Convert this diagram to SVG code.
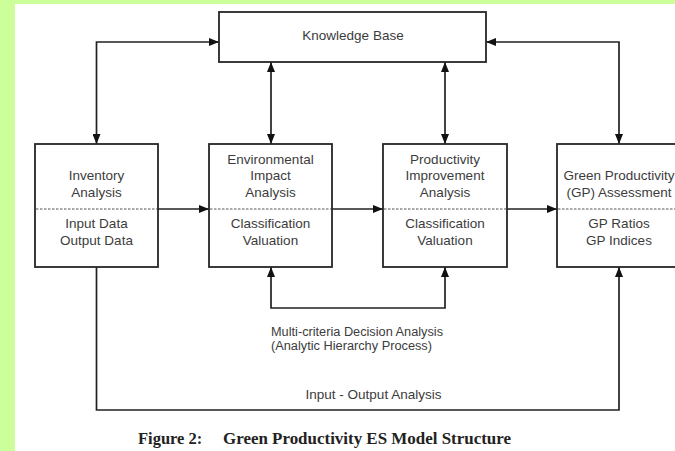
<svg xmlns="http://www.w3.org/2000/svg" width="675" height="451" viewBox="0 0 675 451">
  <style>
    .box { fill: #ffffff; stroke: #262626; stroke-width: 1.8; }
    .div { stroke: #555555; stroke-width: 1; stroke-dasharray: 2.5 1.5; fill: none; }
    .lbl { font-family: "Liberation Sans", Arial, sans-serif; font-size: 13.5px; fill: #3c3c3c; text-anchor: middle; }
    .note { font-family: "Liberation Sans", Arial, sans-serif; font-size: 12px; fill: #3c3c3c; }
    .cap { font-family: "Liberation Serif", "Times New Roman", serif; font-size: 16.5px; font-weight: bold; fill: #222222; }
    .con { fill: none; stroke: #222222; stroke-width: 1.7; }
  </style>
  <defs>
    <marker id="arr" viewBox="0 0 10 8" refX="10" refY="4" markerWidth="10" markerHeight="8" markerUnits="userSpaceOnUse" orient="auto-start-reverse">
      <path d="M0,0 L10,4 L0,8 z" fill="#111111"/>
    </marker>
  </defs>

  <!-- page background -->
  <rect x="0" y="0" width="675" height="451" fill="#ccff99"/>
  <rect x="15" y="4" width="660" height="447" fill="#ffffff"/>

  <!-- connectors -->
  <g id="connectors" class="con">
    <path d="M96.5,144 V42 H219" marker-start="url(#arr)" marker-end="url(#arr)"/>
    <path d="M271,144 V62" marker-start="url(#arr)" marker-end="url(#arr)"/>
    <path d="M445,144 V62" marker-start="url(#arr)" marker-end="url(#arr)"/>
    <path d="M619,144 V42 H486" marker-start="url(#arr)" marker-end="url(#arr)"/>
    <path d="M158,209 H209" marker-end="url(#arr)"/>
    <path d="M332,209 H383" marker-end="url(#arr)"/>
    <path d="M507,209 H557" marker-end="url(#arr)"/>
    <path d="M271,267 V308 H445 V267" marker-start="url(#arr)" marker-end="url(#arr)"/>
    <path d="M96.5,267 V410 H619 V267" marker-end="url(#arr)"/>
  </g>

  <!-- Knowledge Base -->
  <g id="knowledge-base">
    <rect class="box" x="219" y="12" width="267" height="50"/>
    <text class="lbl" x="353" y="40">Knowledge Base</text>
  </g>

  <!-- Inventory Analysis -->
  <g id="inventory">
    <rect class="box" x="35" y="144" width="123" height="123"/>
    <line class="div" x1="36" y1="209" x2="157" y2="209"/>
    <text class="lbl" x="96.5" y="180">Inventory</text>
    <text class="lbl" x="96.5" y="196.5">Analysis</text>
    <text class="lbl" x="96.5" y="228">Input Data</text>
    <text class="lbl" x="96.5" y="244.5">Output Data</text>
  </g>

  <!-- Environmental Impact Analysis -->
  <g id="environmental">
    <rect class="box" x="209" y="144" width="123" height="123"/>
    <line class="div" x1="210" y1="209" x2="331" y2="209"/>
    <text class="lbl" x="270.5" y="163.5">Environmental</text>
    <text class="lbl" x="270.5" y="180">Impact</text>
    <text class="lbl" x="270.5" y="196.5">Analysis</text>
    <text class="lbl" x="270.5" y="228">Classification</text>
    <text class="lbl" x="270.5" y="244.5">Valuation</text>
  </g>

  <!-- Productivity Improvement Analysis -->
  <g id="productivity">
    <rect class="box" x="383" y="144" width="124" height="123"/>
    <line class="div" x1="384" y1="209" x2="506" y2="209"/>
    <text class="lbl" x="445" y="163.5">Productivity</text>
    <text class="lbl" x="445" y="180">Improvement</text>
    <text class="lbl" x="445" y="196.5">Analysis</text>
    <text class="lbl" x="445" y="228">Classification</text>
    <text class="lbl" x="445" y="244.5">Valuation</text>
  </g>

  <!-- Green Productivity Assessment -->
  <g id="gp-assessment">
    <rect class="box" x="557" y="144" width="124" height="123"/>
    <line class="div" x1="558" y1="209" x2="680" y2="209"/>
    <text class="lbl" x="619" y="180">Green Productivity</text>
    <text class="lbl" x="619" y="196.5">(GP) Assessment</text>
    <text class="lbl" x="619" y="228">GP Ratios</text>
    <text class="lbl" x="619" y="244.5">GP Indices</text>
  </g>

  <!-- connector labels -->
  <g id="labels">
    <text class="note" x="271" y="336" textLength="172" lengthAdjust="spacingAndGlyphs">Multi-criteria Decision Analysis</text>
    <text class="note" x="271" y="349.5" textLength="161" lengthAdjust="spacingAndGlyphs">(Analytic Hierarchy Process)</text>
    <text class="lbl" x="373.5" y="399">Input - Output Analysis</text>
  </g>

  <!-- caption -->
  <g id="caption">
    <text class="cap" x="138" y="444">Figure 2:</text>
    <text class="cap" x="223" y="444" textLength="288" lengthAdjust="spacingAndGlyphs">Green Productivity ES Model Structure</text>
  </g>
</svg>
